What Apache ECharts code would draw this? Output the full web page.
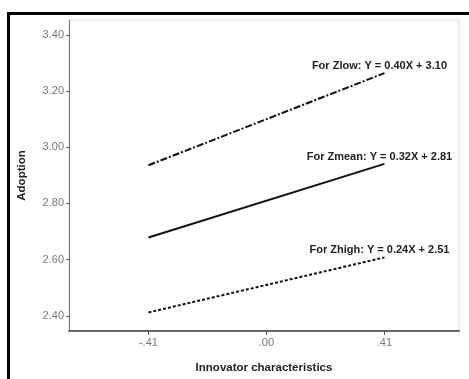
<!DOCTYPE html>
<html><head><meta charset="utf-8">
<script src="https://cdn.jsdelivr.net/npm/echarts@6/dist/echarts.min.js"></script>
<style>html,body{margin:0;padding:0;background:#fff}#c{width:469px;height:379px}</style>
</head><body><div id="c"></div>
<script>
const xPoints = [-0.41, 0.41];
const xTicks = [-0.41, 0, 0.41];
const xTickLabels = ['-.41', '.00', '.41'];
const yTicks = [2.40, 2.60, 2.80, 3.00, 3.20, 3.40];
const zlow = [2.936, 3.264];
const zmean = [2.679, 2.941];
const zhigh = [2.412, 2.608];
const labels = ['For Zlow: Y = 0.40X + 3.10', 'For Zmean: Y = 0.32X + 2.81', 'For Zhigh: Y = 0.24X + 2.51'];

const font = 'Liberation Sans, Arial, sans-serif';
function mk(vals, label, lt, w) {
  return {
    type: 'line', symbol: 'circle', symbolSize: 1, showSymbol: true, silent: true,
    itemStyle: { color: 'rgba(0,0,0,0)' },
    data: vals.map((v, i) => {
      const d = { value: [xPoints[i], v] };
      if (i === vals.length - 1) {
        d.label = { show: true, position: 'top', distance: 1, offset: [-5, 0], formatter: label,
          fontFamily: font, fontSize: 11, fontWeight: 'bold', color: '#222' };
      }
      return d;
    }),
    lineStyle: { color: '#111', width: w, type: lt }
  };
}
const chart = echarts.init(document.getElementById('c'), null, { renderer: 'canvas' });
chart.setOption({
  animation: false,
  grid: { left: 69, top: 20, right: 10, bottom: 46, show: true, borderColor: '#dedede', borderWidth: 1, backgroundColor: '#fff' },
  graphic: [{ type: 'rect', shape: { x: 8.5, y: 13.5, width: 600, height: 500 }, style: { fill: 'none', stroke: '#000', lineWidth: 3 }, z: 100 }],
  xAxis: {
    type: 'value', min: -0.686, max: 0.669,
    name: 'Innovator characteristics', nameLocation: 'middle', nameGap: 31,
    nameTextStyle: { fontFamily: font, fontSize: 11.5, fontWeight: 'bold', color: '#222' },
    axisLine: { show: true, onZero: false, lineStyle: { color: '#666', width: 2 } },
    axisTick: { show: true, length: 4, customValues: xTicks, lineStyle: { color: '#555' } },
    axisLabel: { customValues: xTicks, fontFamily: font, fontSize: 11, color: '#777', margin: 6,
      formatter: v => xTickLabels[xTicks.findIndex(t => Math.abs(t - v) < 1e-6)] },
    splitLine: { show: false }
  },
  yAxis: {
    type: 'value', min: 2.346, max: 3.453,
    name: 'Adoption', nameLocation: 'middle', nameGap: 41, nameRotate: 90,
    nameTextStyle: { fontFamily: font, fontSize: 11.5, fontWeight: 'bold', color: '#222' },
    axisLine: { show: true, onZero: false, lineStyle: { color: '#777', width: 1 } },
    axisTick: { show: true, length: 3, customValues: yTicks, lineStyle: { color: '#555' } },
    axisLabel: { customValues: yTicks, fontFamily: font, fontSize: 11, color: '#777', margin: 5,
      formatter: v => v.toFixed(2) },
    splitLine: { show: false }
  },
  series: [
    mk(zlow, labels[0], [7, 2, 2, 2], 2),
    mk(zmean, labels[1], 'solid', 2),
    mk(zhigh, labels[2], [3, 2], 2)
  ]
});
</script></body></html>
